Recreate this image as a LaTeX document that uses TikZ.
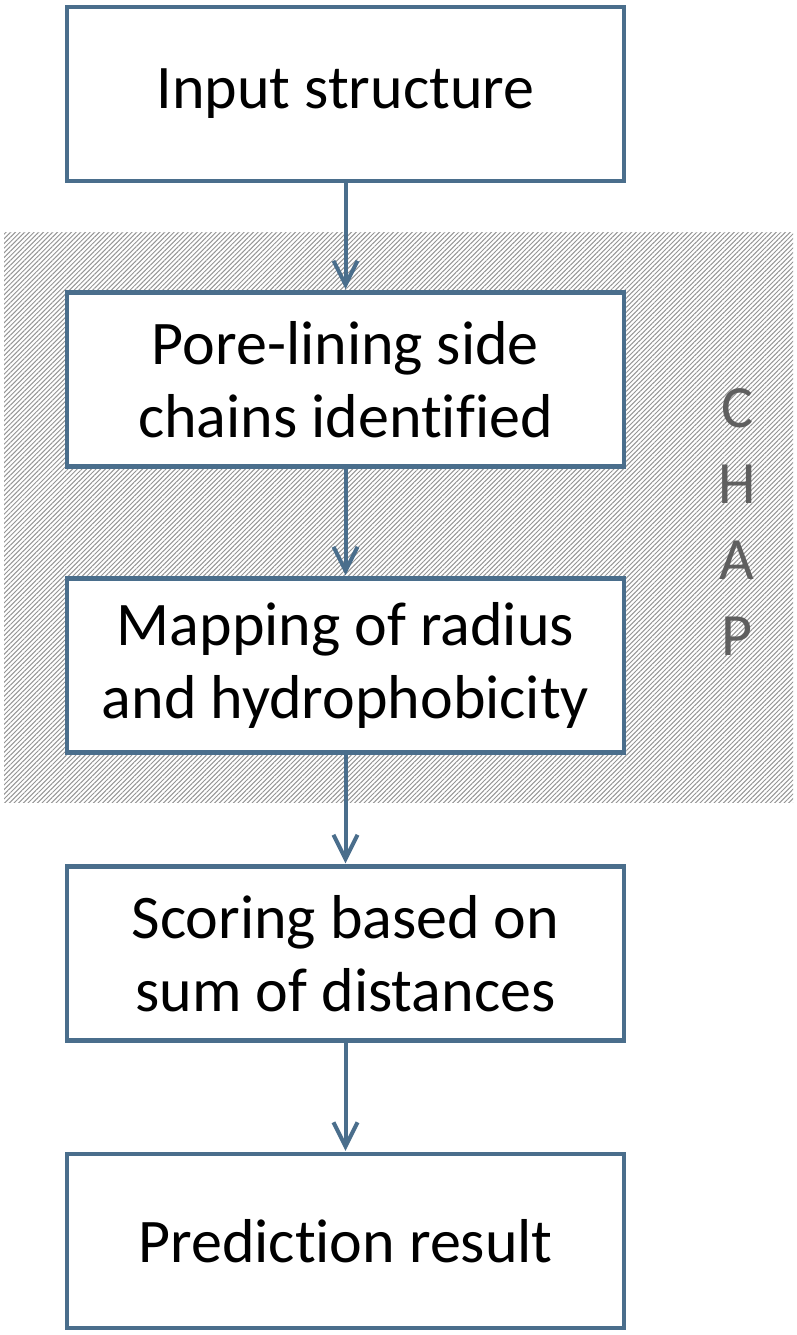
\documentclass[tikz,border=0pt]{standalone}
\usepackage{fontspec}
\setmainfont{Carlito}[Ligatures={NoCommon,NoContextual,NoRare}]
\usetikzlibrary{arrows.meta,patterns.meta}
\definecolor{boxblue}{RGB}{74,110,140}
\definecolor{chapgray}{RGB}{95,95,95}
\definecolor{hatchgray}{RGB}{150,150,150}
\tikzset{
  stepbox/.style={draw=boxblue, line width=4.5pt, fill=white, minimum width=557pt, minimum height=174pt, inner sep=0pt, align=center, font=\fontsize{62}{73}\selectfont},
  flowarrow/.style={draw=boxblue, line width=4pt, -{Straight Barb[length=24pt,width=24pt,line width=4pt]}, shorten >=1pt},
}
\begin{document}
\begin{tikzpicture}[x=1pt,y=-1pt]
\useasboundingbox (0,0) rectangle (797,1335);
\fill[white] (0,0) rectangle (797,1335);
\path[pattern={Lines[angle=45,distance=3.3pt,line width=1pt]}, pattern color=hatchgray] (4,232) rectangle (793,802);
\node[stepbox] (in) at (345.5,94) {Input structure};
\node[stepbox] (pore) at (345.5,379.5) {Pore-lining side\\chains identified};
\node[stepbox] (map) at (345.5,665.5) {Mapping of radius\\and hydrophobicity};
\node[stepbox] (score) at (345.5,953.5) {Scoring based on\\sum of distances};
\node[stepbox] (pred) at (345.5,1241) {Prediction result};
\node[text=chapgray, align=center, font=\fontsize{60}{76}\selectfont] (chap) at (737,522) {C\\H\\A\\P};
\draw[flowarrow] (in) -- (pore);
\draw[flowarrow] (pore) -- (map);
\draw[flowarrow] (map) -- (score);
\draw[flowarrow] (score) -- (pred);
\end{tikzpicture}
\end{document}
